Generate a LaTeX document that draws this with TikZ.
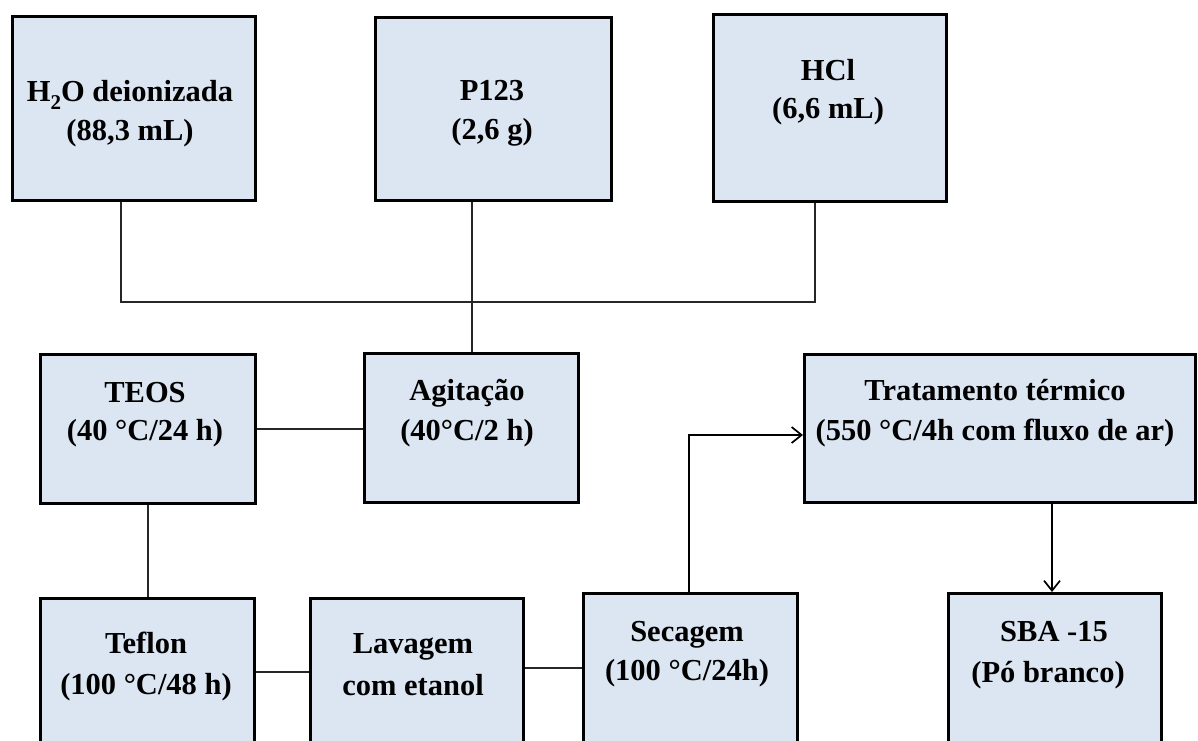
\documentclass[tikz,border=0pt]{standalone}
\usepackage{fontspec}
\setmainfont{Liberation Serif}
\usetikzlibrary{arrows.meta}
\definecolor{boxfill}{HTML}{DCE6F2}
\newcommand{\subtwo}{\raisebox{-8pt}{\fontsize{21}{21}\selectfont 2}}
\tikzset{
  box/.style={draw=black, line width=3pt, fill=boxfill, rectangle, inner sep=0pt},
  lbl/.style={inner sep=0pt, font=\fontsize{30.5}{40}\bfseries\selectfont, anchor=base},
  conn/.style={draw=black!85, line width=1.4pt},
  arr/.style={draw=black, line width=1.7pt, -{Straight Barb[length=10pt,width=16pt,line width=1.7pt]}}
}
\begin{document}
\begin{tikzpicture}[x=1pt,y=-1pt]
\useasboundingbox (0,0) rectangle (1198,740);
\clip (0,0) rectangle (1198,740);
\fill[white] (0,0) rectangle (1198,740);

% boxes
\node[box, minimum width=243pt, minimum height=184pt] (h2o) at (134,108.5) {};
\node[box, minimum width=236pt, minimum height=183pt] (p123) at (493.5,109) {};
\node[box, minimum width=233pt, minimum height=187pt] (hcl) at (830,108) {};
\node[box, minimum width=215pt, minimum height=149pt] (teos) at (148,429) {};
\node[box, minimum width=214pt, minimum height=149pt] (agit) at (471.5,428) {};
\node[box, minimum width=391pt, minimum height=148pt] (trat) at (1000,428.5) {};
\node[box, minimum width=214pt, minimum height=160pt] (teflon) at (147.5,678.5) {};
\node[box, minimum width=213pt, minimum height=160pt] (lav) at (417,678.5) {};
\node[box, minimum width=214pt, minimum height=165pt] (sec) at (690.5,676) {};
\node[box, minimum width=213pt, minimum height=165pt] (sba) at (1055,676) {};

% labels
\node[lbl] (h2oA) at (130,101) {H\subtwo O deionizada};
\node[lbl] (h2oB) at (130,140) {(88,3 mL)};
\node[lbl] (p123A) at (492,100) {P123};
\node[lbl] (p123B) at (492,139) {(2,6 g)};
\node[lbl] (hclA) at (828,80) {HCl};
\node[lbl] (hclB) at (828,118) {(6,6 mL)};
\node[lbl] (teosA) at (145,402) {TEOS};
\node[lbl] (teosB) at (145,440) {(40 °C/24 h)};
\node[lbl] (agitA) at (467,400) {Agitação};
\node[lbl] (agitB) at (467,440) {(40°C/2 h)};
\node[lbl] (tratA) at (995,400) {Tratamento térmico};
\node[lbl] (tratB) at (995,440) {(550 °C/4h com fluxo de ar)};
\node[lbl] (teflonA) at (146,653) {Teflon};
\node[lbl] (teflonB) at (146,694) {(100 °C/48 h)};
\node[lbl] (lavA) at (413,653) {Lavagem};
\node[lbl] (lavB) at (413,695) {com etanol};
\node[lbl] (secA) at (687,641) {Secagem};
\node[lbl] (secB) at (687,680) {(100 °C/24h)};
\node[lbl] (sbaA) at (1054,641) {SBA -15};
\node[lbl] (sbaB) at (1048,682) {(Pó branco)};

% connectors
\coordinate (jl) at (121,302);
\coordinate (jr) at (815,302);
\draw[conn] (h2o.south -| jl) -- (jl) -- (jr) -- (hcl.south -| jr);
\draw[conn] (p123.south -| 472,0) -- (agit.north -| 472,0);
\draw[conn] (teos.east |- 0,429) -- (agit.west |- 0,429);
\draw[conn] (teos.south) -- (teos.south |- teflon.north);
\draw[conn] (teflon.east |- 0,672) -- (lav.west |- 0,672);
\draw[conn] (lav.east |- 0,668) -- (sec.west |- 0,668);
\draw[arr] (sec.north -| 689,0) |- (trat.west |- 0,435);
\draw[arr] (trat.south -| 1052,0) -- (sba.north -| 1052,0);
\end{tikzpicture}
\end{document}
